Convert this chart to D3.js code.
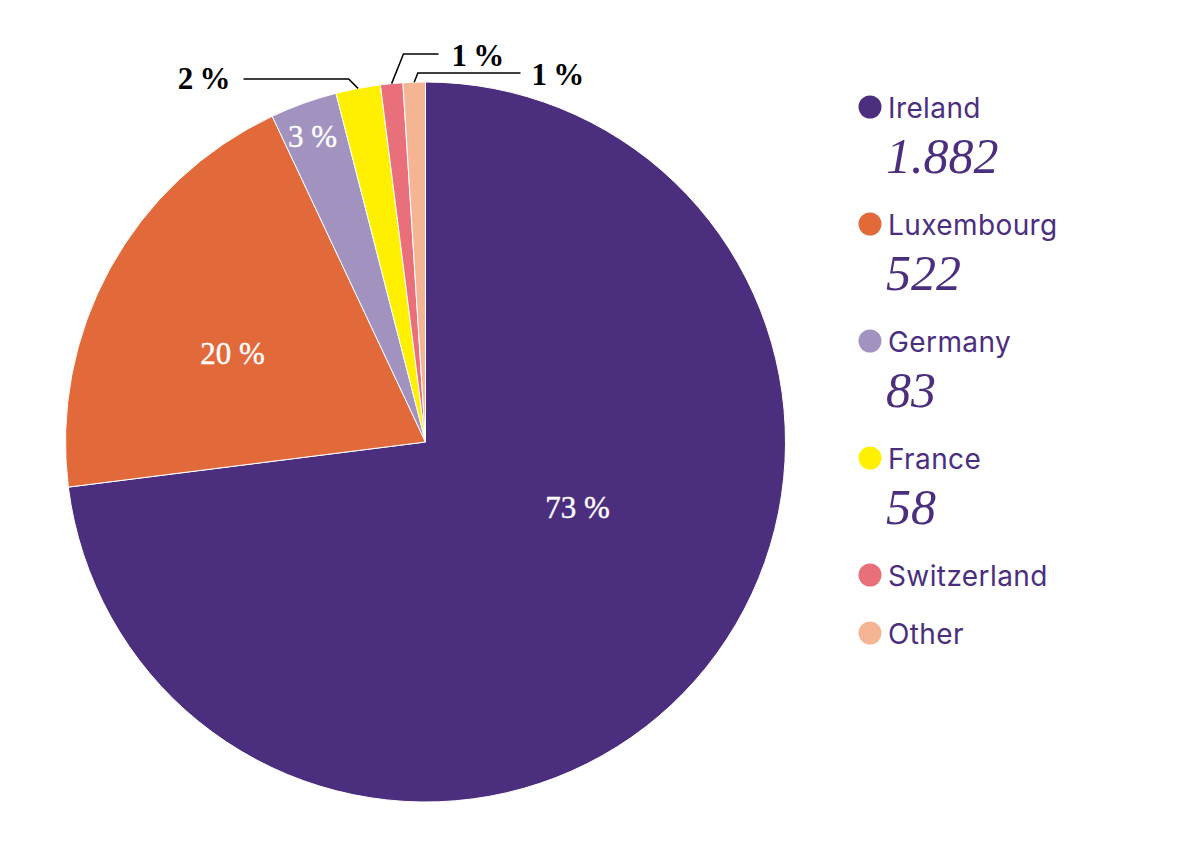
<!DOCTYPE html>
<meta charset="utf-8">
<style>
    body { margin: 0; background: #fff; }
    .slice { stroke: #fff; stroke-width: 1; }
    .pct { font-family: "Liberation Serif", "Times New Roman", serif; font-size: 31px; }
    .pct.inside { fill: #fff; stroke: #fff; stroke-width: 0.4; }
    .pct.outside { fill: #000; font-weight: bold; }
    .leader { fill: none; stroke: #000; stroke-width: 1.5; }
    .leg-name { font-family: Inter, "Noto Sans", sans-serif; font-size: 28px; letter-spacing: 0.4px; fill: #4b2e7e; }
    .leg-value { font-family: "Liberation Serif", serif; font-style: italic; font-size: 50px; fill: #4b2e7e; }
</style>
<body>
<svg></svg>
</body>
<script src="https://d3js.org/d3.v7.min.js"></script>
<script>
    // data
    var countries = ["Ireland", "Luxembourg", "Germany", "France", "Switzerland", "Other"];
    var shares = [73, 20, 3, 2, 1, 1];                 // percent, as printed on the slices
    var amounts = [1882, 522, 83, 58, null, null];     // legend figures
    var colors = ["#4b2e7e", "#e26a3a", "#a292c0", "#fff000", "#e9707b", "#f5b595"];

    var width = 1180, height = 852;
    var cx = 425.5, cy = 442, radius = 360;

    var svg = d3.select("svg")
        .attr("width", width)
        .attr("height", height);

    var locale = d3.formatLocale({decimal: ",", thousands: ".", grouping: [3], currency: ["", " €"]});
    var fmt = locale.format(",d");

    var rows = countries.map(function (c, i) {
        return {name: c, share: shares[i], amount: amounts[i], color: colors[i]};
    });

    var pie = d3.pie()
        .sort(null)
        .value(function (d) { return d.share; });

    var arcs = pie(rows);

    var arc = d3.arc()
        .innerRadius(0)
        .outerRadius(radius);

    var g = svg.append("g")
        .attr("transform", "translate(" + cx + "," + cy + ")");

    g.selectAll("path.slice")
        .data(arcs)
        .enter().append("path")
        .attr("class", "slice")
        .attr("d", arc)
        .attr("fill", function (d) { return d.data.color; });

    // label placement: inside labels sit on a circle of given radius,
    // the big slice gets its label pulled toward the middle of the chart
    var inside = {
        Ireland: {r: 170, shift: -0.258},
        Luxembourg: {r: 208, shift: -0.12},
        Germany: {r: 316, shift: -0.02}
    };
    var outside = {
        France: {elbowY: -363, lineX: -182, textX: -195, anchor: "end", dy: 10},
        Switzerland: {elbowY: -388, lineX: 13, textX: 26, anchor: "start", dy: 12},
        Other: {elbowY: -369, lineX: 95, textX: 106, anchor: "start", dy: 12}
    };

    arcs.forEach(function (d) {
        var name = d.data.name;
        var mid = (d.startAngle + d.endAngle) / 2;
        if (inside[name]) {
            var p = inside[name];
            var a = mid + p.shift;
            g.append("text")
                .attr("class", "pct inside")
                .attr("text-anchor", "middle")
                .attr("x", p.r * Math.sin(a))
                .attr("y", -p.r * Math.cos(a))
                .text(d.data.share + " %");
        } else if (outside[name]) {
            var o = outside[name];
            var rim = [radius * Math.sin(mid), -radius * Math.cos(mid)];
            var dir = o.anchor === "end" ? -1 : 1;
            var elbowX = rim[0] + dir * Math.abs(rim[1] - o.elbowY) * (o.anchor === "end" ? 1 : 0.4);
            g.append("path")
                .attr("class", "leader")
                .attr("d", d3.line()([rim, [elbowX, o.elbowY], [o.lineX, o.elbowY]]));
            g.append("text")
                .attr("class", "pct outside")
                .attr("text-anchor", o.anchor)
                .attr("x", o.textX)
                .attr("y", o.elbowY + o.dy)
                .text(d.data.share + "\u2009%");
        }
    });

    // legend
    var legend = svg.append("g")
        .attr("transform", "translate(870,0)");

    var y = 107;
    rows.forEach(function (d) {
        var item = legend.append("g").attr("transform", "translate(0," + y + ")");
        item.append("circle")
            .attr("r", 11.5)
            .attr("fill", d.color);
        item.append("text")
            .attr("class", "leg-name")
            .attr("x", 18)
            .attr("y", 10.5)
            .text(d.name);
        if (d.amount != null) {
            item.append("text")
                .attr("class", "leg-value")
                .attr("x", 16)
                .attr("y", 66)
                .text(fmt(d.amount));
            y += 117;
        } else {
            y += 58;
        }
    });
</script>
</html>
